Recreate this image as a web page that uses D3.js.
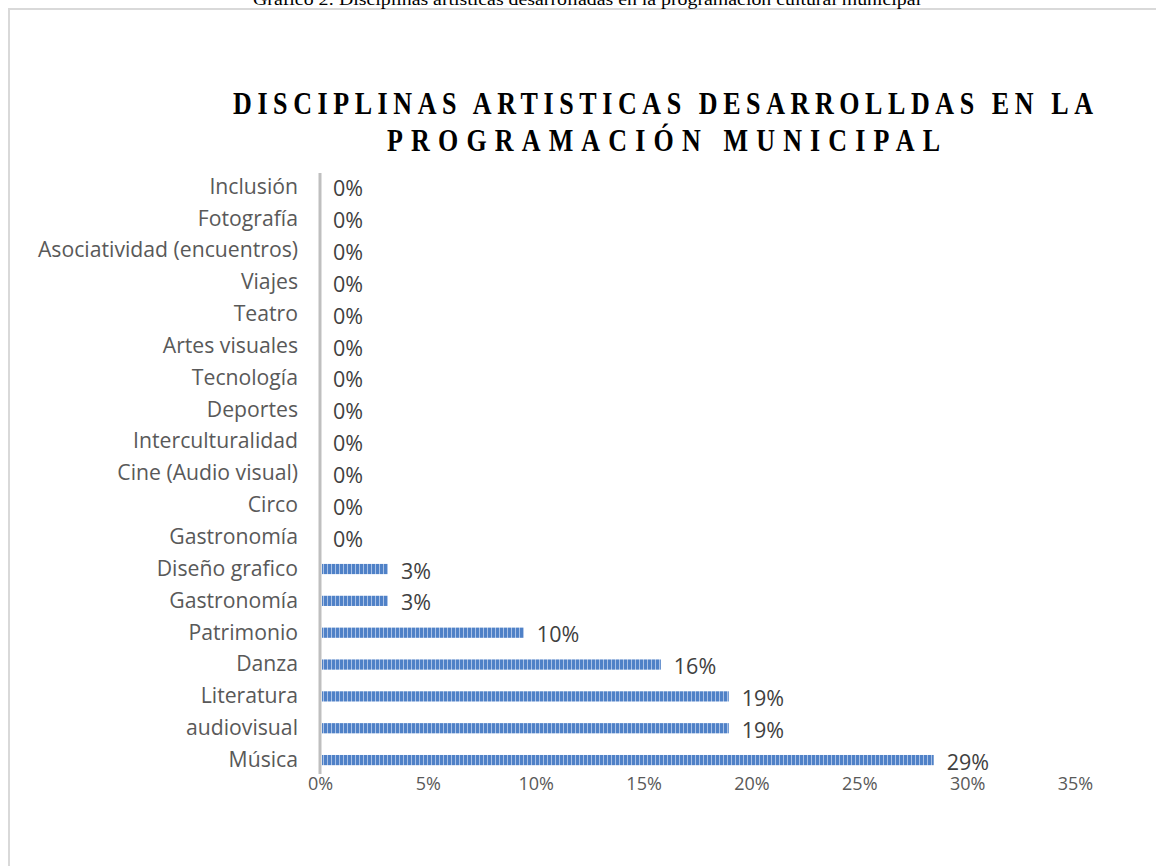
<!DOCTYPE html>
<html>
<head>
<meta charset="utf-8">
<script src="https://cdn.jsdelivr.net/npm/d3@7/dist/d3.min.js"></script>
<style>
  html, body { margin: 0; padding: 0; background: #fff; }
  svg { display: block; }
</style>
</head>
<body>
<svg id="chart" width="1156" height="866"></svg>
<script>
// ---- data ----
const caption = "Gráfico 2: Disciplinas artísticas desarrolladas en la programación cultural municipal";
const titleLines = ["DISCIPLINAS ARTISTICAS DESARROLLDAS EN LA", "PROGRAMACIÓN MUNICIPAL"];
const categories = [
  "Inclusión", "Fotografía", "Asociatividad (encuentros)", "Viajes", "Teatro",
  "Artes visuales", "Tecnología", "Deportes", "Interculturalidad", "Cine (Audio visual)",
  "Circo", "Gastronomía", "Diseño grafico", "Gastronomía", "Patrimonio",
  "Danza", "Literatura", "audiovisual", "Música"
];
const values = [
  0, 0, 0, 0, 0,
  0, 0, 0, 0, 0,
  0, 0, 0.0315, 0.0315, 0.0945,
  0.158, 0.1895, 0.1895, 0.2845
];
const valueLabels = [
  "0%", "0%", "0%", "0%", "0%",
  "0%", "0%", "0%", "0%", "0%",
  "0%", "0%", "3%", "3%", "10%",
  "16%", "19%", "19%", "29%"
];
const xTicks = [0, 0.05, 0.10, 0.15, 0.20, 0.25, 0.30, 0.35];

// ---- drawing ----
const svg = d3.select("#chart");
const defs = svg.append("defs");
const pat = defs.append("pattern")
  .attr("id", "stripes").attr("patternUnits", "userSpaceOnUse")
  .attr("width", 4).attr("height", 10);
pat.append("rect").attr("width", 4).attr("height", 10).attr("fill", "#4f81c7");
pat.append("rect").attr("x", 3).attr("width", 1).attr("height", 10).attr("fill", "#a9c1e6");

// chart frame
svg.append("path")
  .attr("d", "M9,866 L9,9 L1156,9")
  .attr("fill", "none").attr("stroke", "#d9d9d9").attr("stroke-width", 2);

// caption (clipped at top)
svg.append("text")
  .attr("transform", "translate(587,5) scale(0.8,1)")
  .attr("text-anchor", "middle")
  .attr("font-family", "Liberation Serif, serif")
  .attr("font-size", 17).attr("fill", "#000")
  .attr("textLength", 668 / 0.8).attr("lengthAdjust", "spacingAndGlyphs")
  .text(caption);

// title (condensed bold serif, letter-spaced)
const sx = 0.84;
const titleSpecs = [{y: 114, x: 663, w: 860}, {y: 151, x: 663.5, w: 553}];
titleLines.forEach((t, i) => {
  svg.append("text")
    .attr("transform", `translate(${titleSpecs[i].x},${titleSpecs[i].y}) scale(${sx},1)`)
    .attr("text-anchor", "middle")
    .attr("font-family", "Liberation Serif, serif")
    .attr("font-weight", "bold")
    .attr("font-size", 31).attr("fill", "#000")
    .attr("textLength", titleSpecs[i].w / sx).attr("lengthAdjust", "spacing")
    .text(t);
});

const x = d3.scaleLinear().domain([0, 0.35]).range([320, 1075]);
const y = d3.scaleBand().domain(d3.range(categories.length)).range([171, 776]).paddingInner(0.68).paddingOuter(0.34);

// bars
svg.append("g").selectAll("rect").data(values).join("rect")
  .attr("x", x(0) + 2)
  .attr("y", (d, i) => y(i))
  .attr("width", d => Math.max(0, x(d) - x(0) - 2))
  .attr("height", y.bandwidth())
  .attr("fill", "url(#stripes)");

// category axis
const yAxis = svg.append("g")
  .attr("transform", `translate(${x(0)},0)`)
  .call(d3.axisLeft(y).tickFormat(i => categories[i]).tickSize(0).tickPadding(22));
yAxis.select(".domain").attr("stroke", "#bfbfbf").attr("stroke-width", 3)
  .attr("d", "M0,173V774");
yAxis.selectAll("text")
  .attr("font-family", "Open Sans, sans-serif").attr("font-size", 21.2).attr("fill", "#595959");

// x axis (labels only)
const xAxis = svg.append("g")
  .attr("transform", "translate(0,784)")
  .call(d3.axisBottom(x).tickValues(xTicks).tickFormat(d3.format(".0%")).tickSize(0).tickPadding(0));
xAxis.select(".domain").remove();
xAxis.selectAll("text")
  .attr("dy", "0.35em")
  .attr("font-family", "Open Sans, sans-serif").attr("font-size", 18).attr("fill", "#595959");

// value labels
svg.append("g").selectAll("text").data(values).join("text")
  .attr("x", d => x(d) + 13)
  .attr("y", (d, i) => y(i) + y.bandwidth() / 2 + 2)
  .attr("dy", "0.35em")
  .attr("font-family", "Open Sans, sans-serif").attr("font-size", 21.5).attr("fill", "#404040")
  .text((d, i) => valueLabels[i]);
</script>
</body>
</html>
